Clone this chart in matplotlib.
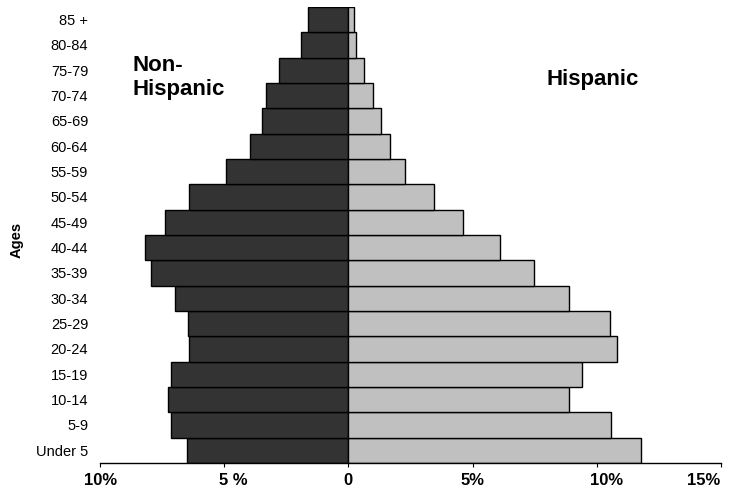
import matplotlib
matplotlib.use("Agg")
import matplotlib.pyplot as plt
import matplotlib.transforms as mtransforms
import numpy as np

plt.rcParams['font.family'] = ['Liberation Sans', 'DejaVu Sans']

ages = ["Under 5", "5-9", "10-14", "15-19", "20-24", "25-29", "30-34", "35-39",
        "40-44", "45-49", "50-54", "55-59", "60-64", "65-69", "70-74", "75-79",
        "80-84", "85 +"]
non_hispanic = [6.51, 7.15, 7.27, 7.16, 6.41, 6.47, 6.99, 7.96,
                8.18, 7.39, 6.43, 4.93, 3.96, 3.46, 3.32, 2.79, 1.91, 1.63]
hispanic = [11.76, 10.58, 8.88, 9.39, 10.81, 10.53, 8.88, 7.46,
            6.10, 4.61, 3.45, 2.29, 1.69, 1.30, 0.98, 0.62, 0.31, 0.24]
xticks = [-10, -5, 0, 5, 10, 15]
xticklabels = ["10%", "5 %", "0", "5%", "10%", "15%"]

W, H = 735, 491
fig = plt.figure(figsize=(W / 100, H / 100), dpi=100)
ax = fig.add_axes([100 / W, 28 / H, 621 / W, 456 / H])

y = np.arange(len(ages))
ax.barh(y, [-v for v in non_hispanic], height=1.0, color="#333333",
        edgecolor="black", linewidth=1.0)
ax.barh(y, hispanic, height=1.0, color="#c0c0c0",
        edgecolor="black", linewidth=1.0)

ax.set_xlim(-10, 15)
ax.set_ylim(-0.5, len(ages) - 0.5)
ax.set_yticks(y)
ax.set_yticklabels(ages, fontsize=10.5)
ax.set_xticks(xticks)
ax.set_xticklabels(xticklabels, fontsize=12, fontweight="bold")
ax.tick_params(axis="y", length=0, pad=8.5)
ax.tick_params(axis="x", direction="out", length=3, width=0.8, pad=4)
for s in ["top", "right", "left"]:
    ax.spines[s].set_visible(False)
ax.spines["bottom"].set_linewidth(1.0)

# label horizontal offsets (pixels) as in the reference rendering
label_shift = [1, 9, 0, 0, 10, -17]
for lab, dx in zip(ax.get_xticklabels(), label_shift):
    lab.set_transform(lab.get_transform() +
                      mtransforms.ScaledTranslation(dx / 100, 0, fig.dpi_scale_trans))

fig.text(17 / W, 1 - 240 / H, "Ages", rotation=90, fontsize=10.5,
         fontweight="bold", ha="center", va="center")
fig.text(132 / W, 1 - 55 / H, "Non-\nHispanic", fontsize=16, fontweight="bold",
         ha="left", va="top", linespacing=1.2)
fig.text(546 / W, 1 - 85 / H, "Hispanic", fontsize=16, fontweight="bold",
         ha="left", va="baseline")

fig.savefig("out.png", dpi=100)
